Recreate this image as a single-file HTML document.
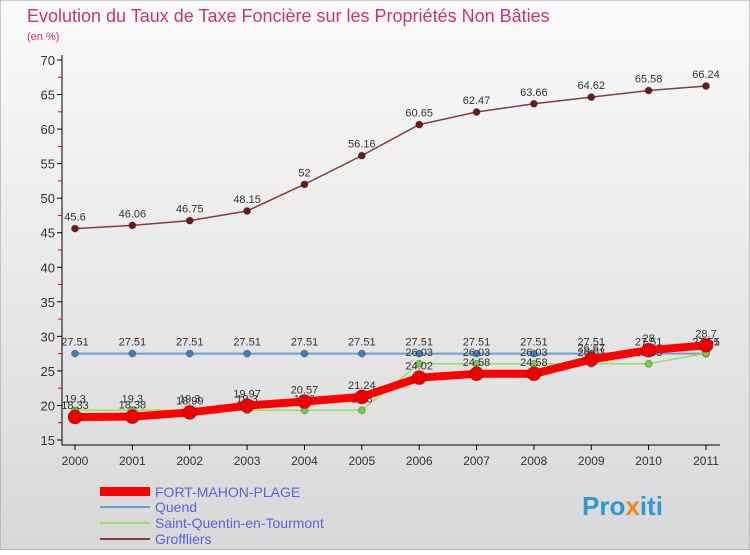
<!DOCTYPE html>
<html><head><meta charset="utf-8"><style>
body{margin:0;width:750px;height:550px;overflow:hidden;font-family:"Liberation Sans",sans-serif}
svg text{font-family:"Liberation Sans",sans-serif}
</style></head><body>
<svg id="c" width="750" height="550">
<defs><linearGradient id="bg" x1="0" y1="0" x2="0" y2="1"><stop offset="0" stop-color="#fafafa"/><stop offset="1" stop-color="#d8d8d8"/></linearGradient></defs>
<rect x="0" y="0" width="750" height="550" fill="url(#bg)" stroke="#999"/>
<text x="27" y="22" font-size="18" fill="#c8386a">Evolution du Taux de Taxe Foncière sur les Propriétés Non Bâties</text>
<text x="27" y="40" font-size="11" fill="#c8386a">(en %)</text>
<g id="axes"></g><g id="series"></g>
<g>
<rect x="100" y="487" width="50" height="9" fill="#f00"/>
<text x="155" y="497" font-size="14" fill="#5566dd">FORT-MAHON-PLAGE</text>
<line x1="100" y1="507" x2="150" y2="507" stroke="#6a9fd0" stroke-width="2"/>
<text x="155" y="512" font-size="14" fill="#5566dd">Quend</text>
<line x1="100" y1="523" x2="150" y2="523" stroke="#99dd66" stroke-width="2"/>
<text x="155" y="528" font-size="14" fill="#5566dd">Saint-Quentin-en-Tourmont</text>
<line x1="100" y1="539" x2="150" y2="539" stroke="#8a3a3a" stroke-width="2"/>
<text x="155" y="544" font-size="14" fill="#5566dd">Groffliers</text>
</g>
<text x="582" y="515" font-size="26" font-weight="bold" fill="#3399cc">Pro<tspan fill="#ee8822">x</tspan>iti</text>
</svg>
<script>
const years=[2000,2001,2002,2003,2004,2005,2006,2007,2008,2009,2010,2011];
const yTicks=[15,20,25,30,35,40,45,50,55,60,65,70];
const fortMahon=[18.33,18.38,18.99,19.97,20.57,21.24,24.02,24.58,24.58,26.67,28,28.7];
const quend=[27.51,27.51,27.51,27.51,27.51,27.51,27.51,27.51,27.51,27.51,27.51,27.51];
const saintQuentin=[19.3,19.3,19.3,19.3,19.3,19.3,26.03,26.03,26.03,26.03,26.03,27.55];
const groffliers=[45.6,46.06,46.75,48.15,52,56.16,60.65,62.47,63.66,64.62,65.58,66.24];
const NS="http://www.w3.org/2000/svg";
const X=i=>75+i*(706-75)/11;
const Y=v=>440-(v-15)*380/55;
function mk(p,tag,at){const e=document.createElementNS(NS,tag);for(const k in at)e.setAttribute(k,at[k]);p.appendChild(e);return e;}
const ax=document.getElementById('axes');
const yl=mk(ax,'line',{x1:62,y1:55,x2:62,y2:445,stroke:'#000'});


const xl=mk(ax,'line',{x1:62,y1:445,x2:720,y2:445,stroke:'#000'});


yTicks.forEach(t=>{
 mk(ax,'line',{x1:57,y1:Y(t),x2:62,y2:Y(t),stroke:'#000'});
 if(t<70)mk(ax,'line',{x1:58,y1:Y(t+2.5),x2:62,y2:Y(t+2.5),stroke:'#e00'});
 const tx=mk(ax,'text',{x:55,y:Y(t)+5,'font-size':13,'text-anchor':'end',fill:'#333'});
 tx.textContent=t;
 
 
});
years.forEach((yr,i)=>{
 mk(ax,'line',{x1:X(i),y1:445,x2:X(i),y2:450,stroke:'#000'});
 const tx=mk(ax,'text',{x:X(i),y:465,'font-size':12,'text-anchor':'middle',fill:'#333'});
 tx.textContent=yr;
 
 
});
const sg=document.getElementById('series');
function series(name,vals,color,w,r,dot){
 const g=mk(sg,'g',{});
 
 
 const pl=mk(g,'polyline',{points:vals.map((v,i)=>X(i)+','+Y(v)).join(' '),fill:'none',stroke:color,'stroke-width':w,'stroke-linejoin':'round'});
 
 
 vals.forEach((v,i)=>{
  const c=mk(g,'circle',{cx:X(i),cy:Y(v),r:r,fill:dot,stroke:'rgba(0,0,0,0.25)'});
  
  
  const t=mk(g,'text',{x:X(i),y:Y(v)-8,'font-size':11,'text-anchor':'middle',fill:'#333'});
  t.textContent=String(v);
  
  
 });
}
series('groffliers',groffliers,'#8a3a3a',1.5,3.5,'#6b1a1a');
series('quend',quend,'#6a9fd0',2,3.5,'#3a80c0');
series('saint-quentin',saintQuentin,'#99dd66',1.5,3.5,'#77cc44');
series('fort-mahon',fortMahon,'#f00',8,7,'#e00');
</script>
</body></html>
